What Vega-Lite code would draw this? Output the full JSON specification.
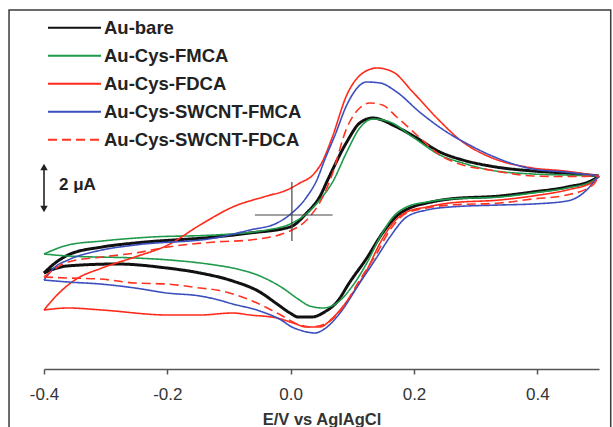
{
  "$schema": "https://vega.github.io/schema/vega-lite/v6.json",
  "autosize": {"type": "none"},
  "padding": {"left": 44, "top": 10, "right": 14, "bottom": 58},
  "width": 555,
  "height": 359,
  "background": "white",
  "config": {
    "view": {"stroke": null},
    "font": "Liberation Sans",
    "axisX": {
      "grid": false,
      "domainColor": "#555555", "domainWidth": 1.5,
      "tickColor": "#555555", "tickWidth": 1.5, "tickSize": 5,
      "labelFont": "Liberation Sans", "labelFontSize": 17, "labelColor": "#333333", "labelPadding": 12, "labelFlush": false,
      "titleFont": "Liberation Sans", "titleFontSize": 16.5, "titleFontWeight": "bold", "titleColor": "#333333", "titlePadding": 9
    }
  },
  "layer": [
    {
      "data": {"values": [
      {"s": "Au-bare", "b": "u", "E": -0.4, "I": -2.32},
      {"s": "Au-bare", "b": "u", "E": -0.382, "I": -1.92},
      {"s": "Au-bare", "b": "u", "E": -0.361, "I": -1.6},
      {"s": "Au-bare", "b": "u", "E": -0.306, "I": -1.28},
      {"s": "Au-bare", "b": "u", "E": -0.2525, "I": -1.12},
      {"s": "Au-bare", "b": "u", "E": -0.123, "I": -0.88},
      {"s": "Au-bare", "b": "u", "E": -0.066, "I": -0.72},
      {"s": "Au-bare", "b": "u", "E": -0.001, "I": -0.48},
      {"s": "Au-bare", "b": "u", "E": 0.026, "I": 0.08},
      {"s": "Au-bare", "b": "u", "E": 0.047, "I": 0.72},
      {"s": "Au-bare", "b": "u", "E": 0.06, "I": 1.4},
      {"s": "Au-bare", "b": "u", "E": 0.091, "I": 2.92},
      {"s": "Au-bare", "b": "u", "E": 0.112, "I": 3.68},
      {"s": "Au-bare", "b": "u", "E": 0.133, "I": 3.88},
      {"s": "Au-bare", "b": "u", "E": 0.172, "I": 3.52},
      {"s": "Au-bare", "b": "u", "E": 0.2045, "I": 3.08},
      {"s": "Au-bare", "b": "u", "E": 0.242, "I": 2.52},
      {"s": "Au-bare", "b": "u", "E": 0.279, "I": 2.2},
      {"s": "Au-bare", "b": "u", "E": 0.323, "I": 1.96},
      {"s": "Au-bare", "b": "u", "E": 0.3925, "I": 1.76},
      {"s": "Au-bare", "b": "u", "E": 0.444, "I": 1.68},
      {"s": "Au-bare", "b": "u", "E": 0.5, "I": 1.56},
      {"s": "Au-bare", "b": "l", "E": 0.5, "I": 1.56},
      {"s": "Au-bare", "b": "l", "E": 0.49, "I": 1.4},
      {"s": "Au-bare", "b": "l", "E": 0.448, "I": 1.12},
      {"s": "Au-bare", "b": "l", "E": 0.3925, "I": 0.92},
      {"s": "Au-bare", "b": "l", "E": 0.339, "I": 0.76},
      {"s": "Au-bare", "b": "l", "E": 0.258, "I": 0.64},
      {"s": "Au-bare", "b": "l", "E": 0.221, "I": 0.48},
      {"s": "Au-bare", "b": "l", "E": 0.193, "I": 0.28},
      {"s": "Au-bare", "b": "l", "E": 0.172, "I": -0.04},
      {"s": "Au-bare", "b": "l", "E": 0.149, "I": -0.72},
      {"s": "Au-bare", "b": "l", "E": 0.1235, "I": -1.72},
      {"s": "Au-bare", "b": "l", "E": 0.096, "I": -2.68},
      {"s": "Au-bare", "b": "l", "E": 0.075, "I": -3.48},
      {"s": "Au-bare", "b": "l", "E": 0.055, "I": -3.88},
      {"s": "Au-bare", "b": "l", "E": 0.034, "I": -4.08},
      {"s": "Au-bare", "b": "l", "E": 0.012, "I": -4.08},
      {"s": "Au-bare", "b": "l", "E": -0.001, "I": -3.92},
      {"s": "Au-bare", "b": "l", "E": -0.022, "I": -3.56},
      {"s": "Au-bare", "b": "l", "E": -0.05, "I": -3.08},
      {"s": "Au-bare", "b": "l", "E": -0.094, "I": -2.64},
      {"s": "Au-bare", "b": "l", "E": -0.147, "I": -2.32},
      {"s": "Au-bare", "b": "l", "E": -0.201, "I": -2.12},
      {"s": "Au-bare", "b": "l", "E": -0.282, "I": -1.96},
      {"s": "Au-bare", "b": "l", "E": -0.363, "I": -2.04},
      {"s": "Au-bare", "b": "l", "E": -0.4, "I": -2.32},

      {"s": "Au-Cys-FMCA", "b": "u", "E": -0.4, "I": -1.56},
      {"s": "Au-Cys-FMCA", "b": "u", "E": -0.361, "I": -1.2},
      {"s": "Au-Cys-FMCA", "b": "u", "E": -0.306, "I": -1.04},
      {"s": "Au-Cys-FMCA", "b": "u", "E": -0.225, "I": -0.88},
      {"s": "Au-Cys-FMCA", "b": "u", "E": -0.123, "I": -0.8},
      {"s": "Au-Cys-FMCA", "b": "u", "E": -0.0386, "I": -0.6},
      {"s": "Au-Cys-FMCA", "b": "u", "E": -0.001, "I": -0.36},
      {"s": "Au-Cys-FMCA", "b": "u", "E": 0.023, "I": 0.0},
      {"s": "Au-Cys-FMCA", "b": "u", "E": 0.047, "I": 0.6},
      {"s": "Au-Cys-FMCA", "b": "u", "E": 0.068, "I": 1.32},
      {"s": "Au-Cys-FMCA", "b": "u", "E": 0.091, "I": 2.52},
      {"s": "Au-Cys-FMCA", "b": "u", "E": 0.112, "I": 3.48},
      {"s": "Au-Cys-FMCA", "b": "u", "E": 0.133, "I": 3.84},
      {"s": "Au-Cys-FMCA", "b": "u", "E": 0.161, "I": 3.72},
      {"s": "Au-Cys-FMCA", "b": "u", "E": 0.198, "I": 3.12},
      {"s": "Au-Cys-FMCA", "b": "u", "E": 0.242, "I": 2.4},
      {"s": "Au-Cys-FMCA", "b": "u", "E": 0.279, "I": 2.08},
      {"s": "Au-Cys-FMCA", "b": "u", "E": 0.323, "I": 1.8},
      {"s": "Au-Cys-FMCA", "b": "u", "E": 0.3925, "I": 1.64},
      {"s": "Au-Cys-FMCA", "b": "u", "E": 0.444, "I": 1.6},
      {"s": "Au-Cys-FMCA", "b": "u", "E": 0.5, "I": 1.56},
      {"s": "Au-Cys-FMCA", "b": "l", "E": 0.5, "I": 1.56},
      {"s": "Au-Cys-FMCA", "b": "l", "E": 0.49, "I": 1.36},
      {"s": "Au-Cys-FMCA", "b": "l", "E": 0.448, "I": 1.08},
      {"s": "Au-Cys-FMCA", "b": "l", "E": 0.3925, "I": 0.88},
      {"s": "Au-Cys-FMCA", "b": "l", "E": 0.339, "I": 0.72},
      {"s": "Au-Cys-FMCA", "b": "l", "E": 0.258, "I": 0.64},
      {"s": "Au-Cys-FMCA", "b": "l", "E": 0.221, "I": 0.52},
      {"s": "Au-Cys-FMCA", "b": "l", "E": 0.188, "I": 0.32},
      {"s": "Au-Cys-FMCA", "b": "l", "E": 0.166, "I": -0.08},
      {"s": "Au-Cys-FMCA", "b": "l", "E": 0.145, "I": -0.88},
      {"s": "Au-Cys-FMCA", "b": "l", "E": 0.1235, "I": -1.92},
      {"s": "Au-Cys-FMCA", "b": "l", "E": 0.099, "I": -2.88},
      {"s": "Au-Cys-FMCA", "b": "l", "E": 0.075, "I": -3.52},
      {"s": "Au-Cys-FMCA", "b": "l", "E": 0.052, "I": -3.72},
      {"s": "Au-Cys-FMCA", "b": "l", "E": 0.031, "I": -3.64},
      {"s": "Au-Cys-FMCA", "b": "l", "E": 0.012, "I": -3.36},
      {"s": "Au-Cys-FMCA", "b": "l", "E": -0.013, "I": -2.92},
      {"s": "Au-Cys-FMCA", "b": "l", "E": -0.05, "I": -2.44},
      {"s": "Au-Cys-FMCA", "b": "l", "E": -0.094, "I": -2.12},
      {"s": "Au-Cys-FMCA", "b": "l", "E": -0.123, "I": -2.0},
      {"s": "Au-Cys-FMCA", "b": "l", "E": -0.196, "I": -1.8},
      {"s": "Au-Cys-FMCA", "b": "l", "E": -0.2525, "I": -1.72},
      {"s": "Au-Cys-FMCA", "b": "l", "E": -0.361, "I": -1.64},
      {"s": "Au-Cys-FMCA", "b": "l", "E": -0.4, "I": -1.56},

      {"s": "Au-Cys-FDCA", "b": "u", "E": -0.4, "I": -3.8},
      {"s": "Au-Cys-FDCA", "b": "u", "E": -0.382, "I": -3.28},
      {"s": "Au-Cys-FDCA", "b": "u", "E": -0.35, "I": -2.6},
      {"s": "Au-Cys-FDCA", "b": "u", "E": -0.306, "I": -2.12},
      {"s": "Au-Cys-FDCA", "b": "u", "E": -0.2525, "I": -1.68},
      {"s": "Au-Cys-FDCA", "b": "u", "E": -0.199, "I": -1.2},
      {"s": "Au-Cys-FDCA", "b": "u", "E": -0.147, "I": -0.4},
      {"s": "Au-Cys-FDCA", "b": "u", "E": -0.094, "I": 0.32},
      {"s": "Au-Cys-FDCA", "b": "u", "E": -0.0386, "I": 0.76},
      {"s": "Au-Cys-FDCA", "b": "u", "E": -0.006, "I": 1.0},
      {"s": "Au-Cys-FDCA", "b": "u", "E": 0.015, "I": 1.28},
      {"s": "Au-Cys-FDCA", "b": "u", "E": 0.036, "I": 1.6},
      {"s": "Au-Cys-FDCA", "b": "u", "E": 0.051, "I": 2.12},
      {"s": "Au-Cys-FDCA", "b": "u", "E": 0.067, "I": 3.08},
      {"s": "Au-Cys-FDCA", "b": "u", "E": 0.091, "I": 4.8},
      {"s": "Au-Cys-FDCA", "b": "u", "E": 0.117, "I": 5.68},
      {"s": "Au-Cys-FDCA", "b": "u", "E": 0.14, "I": 5.88},
      {"s": "Au-Cys-FDCA", "b": "u", "E": 0.166, "I": 5.72},
      {"s": "Au-Cys-FDCA", "b": "u", "E": 0.198, "I": 4.92},
      {"s": "Au-Cys-FDCA", "b": "u", "E": 0.237, "I": 3.88},
      {"s": "Au-Cys-FDCA", "b": "u", "E": 0.279, "I": 2.92},
      {"s": "Au-Cys-FDCA", "b": "u", "E": 0.323, "I": 2.32},
      {"s": "Au-Cys-FDCA", "b": "u", "E": 0.3925, "I": 1.88},
      {"s": "Au-Cys-FDCA", "b": "u", "E": 0.444, "I": 1.76},
      {"s": "Au-Cys-FDCA", "b": "u", "E": 0.5, "I": 1.56},
      {"s": "Au-Cys-FDCA", "b": "l", "E": 0.5, "I": 1.56},
      {"s": "Au-Cys-FDCA", "b": "l", "E": 0.49, "I": 1.32},
      {"s": "Au-Cys-FDCA", "b": "l", "E": 0.448, "I": 1.0},
      {"s": "Au-Cys-FDCA", "b": "l", "E": 0.3925, "I": 0.76},
      {"s": "Au-Cys-FDCA", "b": "l", "E": 0.339, "I": 0.6},
      {"s": "Au-Cys-FDCA", "b": "l", "E": 0.258, "I": 0.48},
      {"s": "Au-Cys-FDCA", "b": "l", "E": 0.221, "I": 0.32},
      {"s": "Au-Cys-FDCA", "b": "l", "E": 0.188, "I": 0.12},
      {"s": "Au-Cys-FDCA", "b": "l", "E": 0.166, "I": -0.32},
      {"s": "Au-Cys-FDCA", "b": "l", "E": 0.145, "I": -1.12},
      {"s": "Au-Cys-FDCA", "b": "l", "E": 0.1235, "I": -2.2},
      {"s": "Au-Cys-FDCA", "b": "l", "E": 0.096, "I": -3.28},
      {"s": "Au-Cys-FDCA", "b": "l", "E": 0.068, "I": -4.12},
      {"s": "Au-Cys-FDCA", "b": "l", "E": 0.047, "I": -4.48},
      {"s": "Au-Cys-FDCA", "b": "l", "E": 0.026, "I": -4.48},
      {"s": "Au-Cys-FDCA", "b": "l", "E": 0.004, "I": -4.32},
      {"s": "Au-Cys-FDCA", "b": "l", "E": -0.022, "I": -4.12},
      {"s": "Au-Cys-FDCA", "b": "l", "E": -0.066, "I": -4.0},
      {"s": "Au-Cys-FDCA", "b": "l", "E": -0.094, "I": -3.92},
      {"s": "Au-Cys-FDCA", "b": "l", "E": -0.147, "I": -4.0},
      {"s": "Au-Cys-FDCA", "b": "l", "E": -0.199, "I": -4.0},
      {"s": "Au-Cys-FDCA", "b": "l", "E": -0.306, "I": -3.8},
      {"s": "Au-Cys-FDCA", "b": "l", "E": -0.361, "I": -3.72},
      {"s": "Au-Cys-FDCA", "b": "l", "E": -0.4, "I": -3.8},

      {"s": "Au-Cys-SWCNT-FMCA", "b": "u", "E": -0.4, "I": -2.6},
      {"s": "Au-Cys-SWCNT-FMCA", "b": "u", "E": -0.382, "I": -2.08},
      {"s": "Au-Cys-SWCNT-FMCA", "b": "u", "E": -0.361, "I": -1.8},
      {"s": "Au-Cys-SWCNT-FMCA", "b": "u", "E": -0.306, "I": -1.4},
      {"s": "Au-Cys-SWCNT-FMCA", "b": "u", "E": -0.2525, "I": -1.2},
      {"s": "Au-Cys-SWCNT-FMCA", "b": "u", "E": -0.123, "I": -0.92},
      {"s": "Au-Cys-SWCNT-FMCA", "b": "u", "E": -0.066, "I": -0.6},
      {"s": "Au-Cys-SWCNT-FMCA", "b": "u", "E": -0.022, "I": -0.32},
      {"s": "Au-Cys-SWCNT-FMCA", "b": "u", "E": 0.002, "I": 0.08},
      {"s": "Au-Cys-SWCNT-FMCA", "b": "u", "E": 0.026, "I": 0.72},
      {"s": "Au-Cys-SWCNT-FMCA", "b": "u", "E": 0.0425, "I": 1.4},
      {"s": "Au-Cys-SWCNT-FMCA", "b": "u", "E": 0.055, "I": 2.2},
      {"s": "Au-Cys-SWCNT-FMCA", "b": "u", "E": 0.072, "I": 3.2},
      {"s": "Au-Cys-SWCNT-FMCA", "b": "u", "E": 0.091, "I": 4.4},
      {"s": "Au-Cys-SWCNT-FMCA", "b": "u", "E": 0.1235, "I": 5.32},
      {"s": "Au-Cys-SWCNT-FMCA", "b": "u", "E": 0.145, "I": 5.28},
      {"s": "Au-Cys-SWCNT-FMCA", "b": "u", "E": 0.172, "I": 4.92},
      {"s": "Au-Cys-SWCNT-FMCA", "b": "u", "E": 0.209, "I": 4.12},
      {"s": "Au-Cys-SWCNT-FMCA", "b": "u", "E": 0.253, "I": 3.32},
      {"s": "Au-Cys-SWCNT-FMCA", "b": "u", "E": 0.29, "I": 2.8},
      {"s": "Au-Cys-SWCNT-FMCA", "b": "u", "E": 0.323, "I": 2.4},
      {"s": "Au-Cys-SWCNT-FMCA", "b": "u", "E": 0.3925, "I": 1.84},
      {"s": "Au-Cys-SWCNT-FMCA", "b": "u", "E": 0.444, "I": 1.72},
      {"s": "Au-Cys-SWCNT-FMCA", "b": "u", "E": 0.5, "I": 1.56},
      {"s": "Au-Cys-SWCNT-FMCA", "b": "l", "E": 0.5, "I": 1.56},
      {"s": "Au-Cys-SWCNT-FMCA", "b": "l", "E": 0.49, "I": 1.28},
      {"s": "Au-Cys-SWCNT-FMCA", "b": "l", "E": 0.48, "I": 1.0},
      {"s": "Au-Cys-SWCNT-FMCA", "b": "l", "E": 0.448, "I": 0.56},
      {"s": "Au-Cys-SWCNT-FMCA", "b": "l", "E": 0.3925, "I": 0.44},
      {"s": "Au-Cys-SWCNT-FMCA", "b": "l", "E": 0.339, "I": 0.4},
      {"s": "Au-Cys-SWCNT-FMCA", "b": "l", "E": 0.258, "I": 0.32},
      {"s": "Au-Cys-SWCNT-FMCA", "b": "l", "E": 0.221, "I": 0.2},
      {"s": "Au-Cys-SWCNT-FMCA", "b": "l", "E": 0.188, "I": -0.08},
      {"s": "Au-Cys-SWCNT-FMCA", "b": "l", "E": 0.161, "I": -0.88},
      {"s": "Au-Cys-SWCNT-FMCA", "b": "l", "E": 0.14, "I": -1.68},
      {"s": "Au-Cys-SWCNT-FMCA", "b": "l", "E": 0.112, "I": -2.72},
      {"s": "Au-Cys-SWCNT-FMCA", "b": "l", "E": 0.08, "I": -3.92},
      {"s": "Au-Cys-SWCNT-FMCA", "b": "l", "E": 0.059, "I": -4.48},
      {"s": "Au-Cys-SWCNT-FMCA", "b": "l", "E": 0.039, "I": -4.72},
      {"s": "Au-Cys-SWCNT-FMCA", "b": "l", "E": 0.02, "I": -4.64},
      {"s": "Au-Cys-SWCNT-FMCA", "b": "l", "E": -0.001, "I": -4.44},
      {"s": "Au-Cys-SWCNT-FMCA", "b": "l", "E": -0.013, "I": -4.24},
      {"s": "Au-Cys-SWCNT-FMCA", "b": "l", "E": -0.05, "I": -3.84},
      {"s": "Au-Cys-SWCNT-FMCA", "b": "l", "E": -0.094, "I": -3.56},
      {"s": "Au-Cys-SWCNT-FMCA", "b": "l", "E": -0.123, "I": -3.36},
      {"s": "Au-Cys-SWCNT-FMCA", "b": "l", "E": -0.147, "I": -3.24},
      {"s": "Au-Cys-SWCNT-FMCA", "b": "l", "E": -0.201, "I": -3.12},
      {"s": "Au-Cys-SWCNT-FMCA", "b": "l", "E": -0.2525, "I": -2.92},
      {"s": "Au-Cys-SWCNT-FMCA", "b": "l", "E": -0.309, "I": -2.76},
      {"s": "Au-Cys-SWCNT-FMCA", "b": "l", "E": -0.361, "I": -2.68},
      {"s": "Au-Cys-SWCNT-FMCA", "b": "l", "E": -0.4, "I": -2.6},

      {"s": "Au-Cys-SWCNT-FDCA", "b": "u", "E": -0.4, "I": -2.48},
      {"s": "Au-Cys-SWCNT-FDCA", "b": "u", "E": -0.361, "I": -1.88},
      {"s": "Au-Cys-SWCNT-FDCA", "b": "u", "E": -0.306, "I": -1.68},
      {"s": "Au-Cys-SWCNT-FDCA", "b": "u", "E": -0.2525, "I": -1.52},
      {"s": "Au-Cys-SWCNT-FDCA", "b": "u", "E": -0.199, "I": -1.28},
      {"s": "Au-Cys-SWCNT-FDCA", "b": "u", "E": -0.123, "I": -1.08},
      {"s": "Au-Cys-SWCNT-FDCA", "b": "u", "E": -0.066, "I": -1.0},
      {"s": "Au-Cys-SWCNT-FDCA", "b": "u", "E": -0.001, "I": -0.64},
      {"s": "Au-Cys-SWCNT-FDCA", "b": "u", "E": 0.026, "I": -0.2},
      {"s": "Au-Cys-SWCNT-FDCA", "b": "u", "E": 0.052, "I": 0.72},
      {"s": "Au-Cys-SWCNT-FDCA", "b": "u", "E": 0.067, "I": 1.6},
      {"s": "Au-Cys-SWCNT-FDCA", "b": "u", "E": 0.091, "I": 3.48},
      {"s": "Au-Cys-SWCNT-FDCA", "b": "u", "E": 0.112, "I": 4.28},
      {"s": "Au-Cys-SWCNT-FDCA", "b": "u", "E": 0.128, "I": 4.48},
      {"s": "Au-Cys-SWCNT-FDCA", "b": "u", "E": 0.149, "I": 4.4},
      {"s": "Au-Cys-SWCNT-FDCA", "b": "u", "E": 0.172, "I": 3.92},
      {"s": "Au-Cys-SWCNT-FDCA", "b": "u", "E": 0.2045, "I": 3.2},
      {"s": "Au-Cys-SWCNT-FDCA", "b": "u", "E": 0.242, "I": 2.4},
      {"s": "Au-Cys-SWCNT-FDCA", "b": "u", "E": 0.279, "I": 2.0},
      {"s": "Au-Cys-SWCNT-FDCA", "b": "u", "E": 0.323, "I": 1.8},
      {"s": "Au-Cys-SWCNT-FDCA", "b": "u", "E": 0.3925, "I": 1.56},
      {"s": "Au-Cys-SWCNT-FDCA", "b": "u", "E": 0.444, "I": 1.54},
      {"s": "Au-Cys-SWCNT-FDCA", "b": "u", "E": 0.5, "I": 1.56},
      {"s": "Au-Cys-SWCNT-FDCA", "b": "l", "E": 0.5, "I": 1.56},
      {"s": "Au-Cys-SWCNT-FDCA", "b": "l", "E": 0.49, "I": 1.2},
      {"s": "Au-Cys-SWCNT-FDCA", "b": "l", "E": 0.448, "I": 0.8},
      {"s": "Au-Cys-SWCNT-FDCA", "b": "l", "E": 0.3925, "I": 0.64},
      {"s": "Au-Cys-SWCNT-FDCA", "b": "l", "E": 0.339, "I": 0.48},
      {"s": "Au-Cys-SWCNT-FDCA", "b": "l", "E": 0.258, "I": 0.4},
      {"s": "Au-Cys-SWCNT-FDCA", "b": "l", "E": 0.221, "I": 0.28},
      {"s": "Au-Cys-SWCNT-FDCA", "b": "l", "E": 0.188, "I": 0.08},
      {"s": "Au-Cys-SWCNT-FDCA", "b": "l", "E": 0.161, "I": -0.6},
      {"s": "Au-Cys-SWCNT-FDCA", "b": "l", "E": 0.14, "I": -1.52},
      {"s": "Au-Cys-SWCNT-FDCA", "b": "l", "E": 0.112, "I": -2.6},
      {"s": "Au-Cys-SWCNT-FDCA", "b": "l", "E": 0.085, "I": -3.68},
      {"s": "Au-Cys-SWCNT-FDCA", "b": "l", "E": 0.059, "I": -4.32},
      {"s": "Au-Cys-SWCNT-FDCA", "b": "l", "E": 0.031, "I": -4.48},
      {"s": "Au-Cys-SWCNT-FDCA", "b": "l", "E": 0.015, "I": -4.4},
      {"s": "Au-Cys-SWCNT-FDCA", "b": "l", "E": -0.022, "I": -3.92},
      {"s": "Au-Cys-SWCNT-FDCA", "b": "l", "E": -0.066, "I": -3.4},
      {"s": "Au-Cys-SWCNT-FDCA", "b": "l", "E": -0.12, "I": -3.0},
      {"s": "Au-Cys-SWCNT-FDCA", "b": "l", "E": -0.147, "I": -2.92},
      {"s": "Au-Cys-SWCNT-FDCA", "b": "l", "E": -0.201, "I": -2.76},
      {"s": "Au-Cys-SWCNT-FDCA", "b": "l", "E": -0.2525, "I": -2.72},
      {"s": "Au-Cys-SWCNT-FDCA", "b": "l", "E": -0.309, "I": -2.56},
      {"s": "Au-Cys-SWCNT-FDCA", "b": "l", "E": -0.361, "I": -2.52},
      {"s": "Au-Cys-SWCNT-FDCA", "b": "l", "E": -0.4, "I": -2.48}
      ]},
      "mark": {"type": "line", "interpolate": "monotone"},
      "encoding": {
        "x": {
          "field": "E", "type": "quantitative",
          "scale": {"domain": [-0.4, 0.5], "nice": false, "zero": false},
          "axis": {"title": "E/V vs AglAgCl", "values": [-0.4, -0.2, 0, 0.2, 0.4], "labelExpr": "replace(datum.label, '\u2212', '-')"}
        },
        "y": {
          "field": "I", "type": "quantitative",
          "scale": {"domain": [-6.16, 8.2], "nice": false, "zero": false},
          "axis": null
        },
        "detail": {"field": "b", "type": "nominal"},
        "color": {
          "field": "s", "type": "nominal",
          "scale": {
            "domain": ["Au-bare", "Au-Cys-FMCA", "Au-Cys-FDCA", "Au-Cys-SWCNT-FMCA", "Au-Cys-SWCNT-FDCA"],
            "range": ["#111111", "#1f9a4b", "#ff2a1a", "#3c4fbf", "#ff3322"]
          },
          "legend": {
            "orient": "none", "legendX": 3, "legendY": 4,
            "title": null, "symbolType": "stroke", "symbolSize": 2809,
            "clipHeight": 27.5, "rowPadding": 0,
            "labelFont": "Liberation Sans", "labelFontSize": 18.5, "labelFontWeight": "bold", "labelColor": "#222222",
            "labelLimit": 400,
            "labelOffset": 2, "padding": 0, "symbolStrokeWidth": 2
          }
        },
        "strokeDash": {
          "field": "s", "type": "nominal",
          "scale": {
            "domain": ["Au-bare", "Au-Cys-FMCA", "Au-Cys-FDCA", "Au-Cys-SWCNT-FMCA", "Au-Cys-SWCNT-FDCA"],
            "range": [[1, 0], [1, 0], [1, 0], [1, 0], [9, 5]]
          }
        },
        "strokeWidth": {
          "condition": {"test": "datum.s === 'Au-bare'", "value": 3},
          "value": 1.6
        }
      }
    },
    {
      "data": {"values": [{"k": 0}]},
      "mark": {"type": "rect", "filled": false, "stroke": "#3a3a3a", "strokeWidth": 1.5},
      "encoding": {
        "x": {"datum": -0.4567, "type": "quantitative", "axis": {"title": "E/V vs AglAgCl", "values": [-0.4, -0.2, 0, 0.2, 0.4], "labelExpr": "replace(datum.label, '\u2212', '-')"}},
        "x2": {"datum": 0.519},
        "y": {"datum": 8.2, "type": "quantitative", "axis": null},
        "y2": {"datum": -9.5}
      }
    },
    {
      "data": {"values": [{"k": 0}]},
      "mark": {"type": "rule", "color": "#444444", "strokeWidth": 1.2},
      "encoding": {
        "x": {"datum": 0.002, "type": "quantitative", "axis": {"title": "E/V vs AglAgCl", "values": [-0.4, -0.2, 0, 0.2, 0.4], "labelExpr": "replace(datum.label, '\u2212', '-')"}},
        "y": {"datum": 1.32, "type": "quantitative", "axis": null},
        "y2": {"datum": -1.04}
      }
    },
    {
      "data": {"values": [{"k": 0}]},
      "mark": {"type": "rule", "color": "#444444", "strokeWidth": 1.2},
      "encoding": {
        "x": {"datum": -0.058, "type": "quantitative", "axis": {"title": "E/V vs AglAgCl", "values": [-0.4, -0.2, 0, 0.2, 0.4], "labelExpr": "replace(datum.label, '\u2212', '-')"}},
        "x2": {"datum": 0.068},
        "y": {"datum": 0, "type": "quantitative", "axis": null}
      }
    },
    {
      "data": {"values": [{"k": 0}]},
      "mark": {"type": "rule", "color": "#222222", "strokeWidth": 1.6},
      "encoding": {
        "x": {"datum": -0.4, "type": "quantitative", "axis": {"title": "E/V vs AglAgCl", "values": [-0.4, -0.2, 0, 0.2, 0.4], "labelExpr": "replace(datum.label, '\u2212', '-')"}},
        "y": {"datum": 1.9, "type": "quantitative", "axis": null},
        "y2": {"datum": 0.26}
      }
    },
    {
      "data": {"values": [{"k": 0}]},
      "mark": {"type": "point", "shape": "triangle-up", "filled": true, "size": 55, "color": "#222222", "opacity": 1},
      "encoding": {
        "x": {"datum": -0.4, "type": "quantitative", "axis": {"title": "E/V vs AglAgCl", "values": [-0.4, -0.2, 0, 0.2, 0.4], "labelExpr": "replace(datum.label, '\u2212', '-')"}},
        "y": {"datum": 1.92, "type": "quantitative", "axis": null}
      }
    },
    {
      "data": {"values": [{"k": 0}]},
      "mark": {"type": "point", "shape": "triangle-down", "filled": true, "size": 55, "color": "#222222", "opacity": 1},
      "encoding": {
        "x": {"datum": -0.4, "type": "quantitative", "axis": {"title": "E/V vs AglAgCl", "values": [-0.4, -0.2, 0, 0.2, 0.4], "labelExpr": "replace(datum.label, '\u2212', '-')"}},
        "y": {"datum": 0.24, "type": "quantitative", "axis": null}
      }
    },
    {
      "data": {"values": [{"k": 0}]},
      "mark": {"type": "text", "text": "2 μA", "align": "left", "baseline": "middle", "font": "Liberation Sans", "fontSize": 17, "fontWeight": "bold", "color": "#222222"},
      "encoding": {
        "x": {"datum": -0.3757, "type": "quantitative", "axis": {"title": "E/V vs AglAgCl", "values": [-0.4, -0.2, 0, 0.2, 0.4], "labelExpr": "replace(datum.label, '\u2212', '-')"}},
        "y": {"datum": 1.2, "type": "quantitative", "axis": null}
      }
    }
  ]
}
